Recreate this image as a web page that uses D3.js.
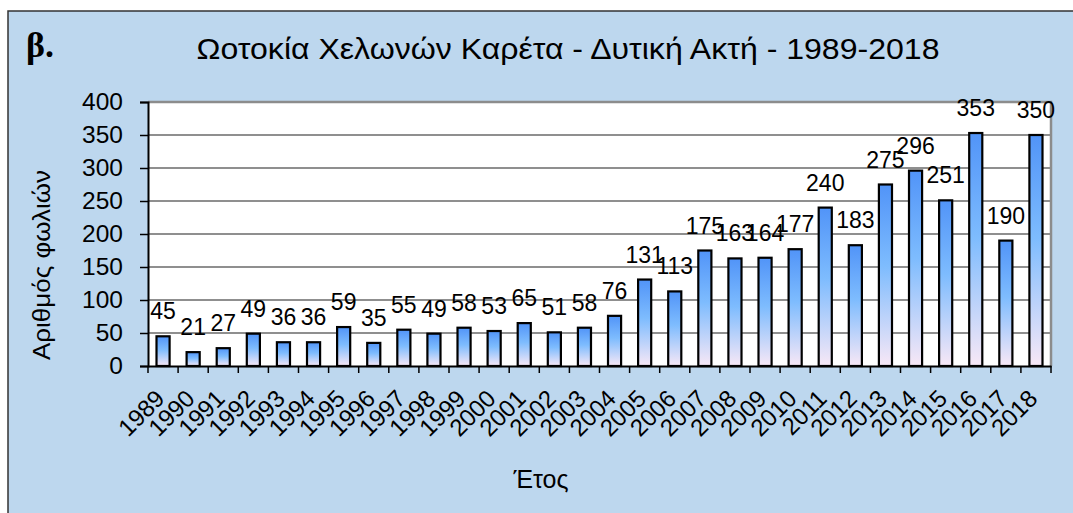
<!DOCTYPE html>
<html><head><meta charset="utf-8">
<script src="https://cdn.jsdelivr.net/npm/d3@7"></script>
<style>body{margin:0;background:#fff}svg{display:block}text{font-family:"Liberation Sans",Arial,sans-serif;fill:#000}</style>
</head><body><svg id="c" width="1073" height="513"></svg>
<script>
const years = ["1989","1990","1991","1992","1993","1994","1995","1996","1997","1998","1999","2000","2001","2002","2003","2004","2005","2006","2007","2008","2009","2010","2011","2012","2013","2014","2015","2016","2017","2018"];
const nests = [45,21,27,49,36,36,59,35,55,49,58,53,65,51,58,76,131,113,175,163,164,177,240,183,275,296,251,353,190,350];
const yTicks = [0,50,100,150,200,250,300,350,400];
const title = "Ωοτοκία Χελωνών Καρέτα - Δυτική Ακτή - 1989-2018";
const panelLabel = "β.";
const yTitle = "Αριθμός φωλιών";
const xTitle = "Έτος";

const svg = d3.select("#c");
const defs = svg.append("defs");
const g = defs.append("linearGradient").attr("id","bg").attr("x1",0).attr("y1",0).attr("x2",0).attr("y2",1);
g.append("stop").attr("offset","0%").attr("stop-color","#5194f8");
g.append("stop").attr("offset","45%").attr("stop-color","#7ebcfe");
g.append("stop").attr("offset","100%").attr("stop-color","#f8e8f6");

// chart frame
svg.append("rect").attr("x",8).attr("y",11).attr("width",1100).attr("height",550)
  .attr("fill","#bdd7ee").attr("stroke","#333").attr("stroke-width",1.5);

const L=148, R=1051, T=102, B=366;
const x = d3.scaleBand().domain(years).range([L,R]).paddingInner(0.565).paddingOuter(0.2825);
const xb = d3.scaleBand().domain(years).range([L,R]);
const y = d3.scaleLinear().domain([0,400]).range([B,T]);

svg.append("rect").attr("x",L).attr("y",T).attr("width",R-L).attr("height",B-T).attr("fill","#fff");
// gridlines
svg.append("g").selectAll("line").data(yTicks.filter(d=>d>0&&d<400)).join("line")
  .attr("x1",L).attr("x2",R).attr("y1",d=>y(d)).attr("y2",d=>y(d))
  .attr("stroke","#6a6a6a").attr("stroke-width",1.3);
// top & right border
svg.append("path").attr("d",`M${L},${T}H${R}V${B}`).attr("fill","none").attr("stroke","#8c8c8c").attr("stroke-width",2.5);

// bars
svg.append("g").selectAll("rect").data(nests).join("rect")
  .attr("x",(d,i)=>x(years[i])).attr("width",x.bandwidth())
  .attr("y",d=>y(d)).attr("height",d=>B-y(d))
  .attr("fill","url(#bg)").attr("stroke","#000").attr("stroke-width",2.2);

// value labels
svg.append("g").selectAll("text").data(nests).join("text")
  .attr("x",(d,i)=>xb(years[i])+xb.bandwidth()/2).attr("y",d=>y(d)-17)
  .attr("text-anchor","middle").attr("font-size",23).text(d=>d);

// y axis
const ya = svg.append("g").attr("transform",`translate(${L},0)`)
  .call(d3.axisLeft(y).tickValues(yTicks).tickSize(8).tickPadding(17));
ya.select(".domain").attr("stroke","#000").attr("stroke-width",2);
ya.selectAll(".tick line").attr("stroke","#000").attr("stroke-width",1.5);
ya.selectAll(".tick text").attr("font-size",24.5).attr("font-family","Liberation Sans, Arial, sans-serif").attr("fill","#000");

// x axis
const xa = svg.append("g").attr("transform",`translate(0,${B})`)
  .call(d3.axisBottom(xb).tickSize(0).tickFormat(""));
xa.select(".domain").attr("stroke","#000").attr("stroke-width",2);
xa.selectAll(".tick").remove();
xa.append("g").selectAll("line").data(years.concat(["end"])).join("line")
  .attr("x1",(d,i)=>i<years.length?xb(d):R).attr("x2",(d,i)=>i<years.length?xb(d):R)
  .attr("y1",0).attr("y2",7).attr("stroke","#000").attr("stroke-width",1.5);
svg.append("g").selectAll("text").data(years).join("text")
  .attr("transform",d=>`translate(${xb(d)+xb.bandwidth()/2+3},${B+34}) rotate(-45)`)
  .attr("text-anchor","end").attr("font-size",24).text(d=>d);

// titles
svg.append("text").attr("x",568).attr("y",59).attr("text-anchor","middle").attr("font-size",29)
  .attr("textLength",743).attr("lengthAdjust","spacingAndGlyphs").text(title);
svg.append("text").attr("x",26).attr("y",57).attr("font-size",36).attr("font-weight","bold")
  .style("font-family","Liberation Serif, Times New Roman, serif").text(panelLabel);
svg.append("text").attr("transform","translate(50,265) rotate(-90)").attr("text-anchor","middle").attr("font-size",23)
  .attr("textLength",190).attr("lengthAdjust","spacingAndGlyphs").text(yTitle);
svg.append("text").attr("x",541).attr("y",488).attr("text-anchor","middle").attr("font-size",25).text(xTitle);
</script></body></html>
